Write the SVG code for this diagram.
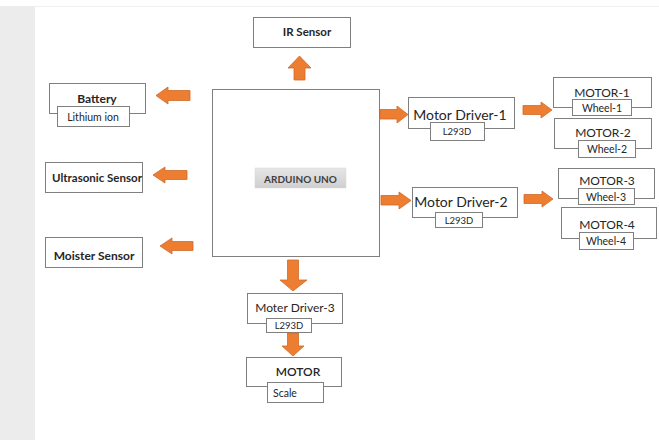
<svg xmlns="http://www.w3.org/2000/svg" width="659" height="440" viewBox="0 0 659 440">
<defs>
<linearGradient id="lbl" x1="0" y1="0" x2="0" y2="1">
<stop offset="0" stop-color="#e6e6e6"/>
<stop offset="1" stop-color="#cfcfcf"/>
</linearGradient>
<style>
.box{fill:#fff;stroke:#7f7f7f;stroke-width:1}
.arr{fill:#ed7d31;stroke:#d0692a;stroke-width:0.8}
text{font-family:Lato,"Open Sans","Liberation Sans",sans-serif;fill:#262626;text-anchor:middle;dominant-baseline:central}
.b{font-weight:700;font-size:11.5px}
.s{font-size:10.5px}
.l{font-size:9.5px}
.m{font-size:12px}
.d{font-size:14px}
</style>
</defs>
<rect x="0" y="0" width="659" height="440" fill="#fff"/>
<rect x="0" y="6" width="35" height="434" fill="#ececec"/>
<line x1="35" y1="6.5" x2="659" y2="6.5" stroke="#f0f0f0" stroke-width="1"/>

<g id="arduino">
<rect class="box" x="212.5" y="89.5" width="167" height="167"/>
<rect x="255" y="168" width="91" height="20" fill="url(#lbl)" stroke="#d8d8d8" stroke-width="0.5"/>
<text x="300.5" y="178.5" style="font-weight:700;font-size:10px;fill:#404040">ARDUINO UNO</text>
</g>

<g id="ir-sensor">
<rect class="box" x="253.5" y="17.5" width="97" height="30"/>
<text class="b" x="307" y="31">IR Sensor</text>
</g>

<g id="battery">
<rect class="box" x="49.5" y="83.5" width="96" height="30"/>
<text class="b" x="97" y="98" style="font-size:12px">Battery</text>
<rect class="box" x="57.5" y="106.5" width="72" height="20"/>
<text class="s" x="93" y="116.5">Lithium ion</text>
</g>

<g id="ultrasonic-sensor">
<rect class="box" x="45.5" y="162.5" width="97" height="30"/>
<text class="b" x="97" y="177">Ultrasonic Sensor</text>
</g>

<g id="moister-sensor">
<rect class="box" x="45.5" y="237.5" width="97" height="30"/>
<text class="b" x="94" y="255" style="font-size:12px">Moister Sensor</text>
</g>

<g id="motor-driver-1">
<rect class="box" x="408.5" y="97.5" width="106" height="31"/>
<text class="d" x="460" y="114">Motor Driver-1</text>
<rect class="box" x="430.5" y="122.5" width="54" height="18"/>
<text class="l" x="457" y="131.5">L293D</text>
</g>

<g id="motor-driver-2">
<rect class="box" x="412.5" y="187.5" width="105" height="30"/>
<text class="d" x="461" y="201">Motor Driver-2</text>
<rect class="box" x="435.5" y="212.5" width="47" height="15"/>
<text class="l" x="459" y="220">L293D</text>
</g>

<g id="motor-1">
<rect class="box" x="553.5" y="77.5" width="98" height="30"/>
<text class="m" x="602" y="92">MOTOR-1</text>
<rect class="box" x="572.5" y="99.5" width="59" height="16"/>
<text class="s" x="602" y="107.5">Wheel-1</text>
</g>

<g id="motor-2">
<rect class="box" x="554.5" y="118.5" width="97" height="30"/>
<text class="m" x="603" y="132">MOTOR-2</text>
<rect class="box" x="578.5" y="140.5" width="57" height="17"/>
<text class="s" x="607" y="149">Wheel-2</text>
</g>

<g id="motor-3">
<rect class="box" x="558.5" y="168.5" width="96" height="30"/>
<text class="m" x="607" y="180">MOTOR-3</text>
<rect class="box" x="578.5" y="188.5" width="56" height="16"/>
<text class="s" x="606" y="196.5">Wheel-3</text>
</g>

<g id="motor-4">
<rect class="box" x="561.5" y="207.5" width="95" height="31"/>
<text class="m" x="607" y="224">MOTOR-4</text>
<rect class="box" x="579.5" y="232.5" width="54" height="17"/>
<text class="s" x="606" y="241">Wheel-4</text>
</g>

<g id="motor-driver-3">
<rect class="box" x="247.5" y="293.5" width="95" height="30"/>
<text class="m" x="295" y="307">Moter Driver-3</text>
<rect class="box" x="266.5" y="318.5" width="45" height="14"/>
<text class="l" x="289" y="325.5">L293D</text>
</g>

<g id="motor-scale">
<rect class="box" x="246.5" y="357.5" width="95" height="29"/>
<text class="m" x="298" y="371.5" style="font-weight:600">MOTOR</text>
<rect class="box" x="267.5" y="382.5" width="56" height="20"/>
<text class="s" x="273" y="392.5" style="text-anchor:start">Scale</text>
</g>

<g id="connectors">
<polygon class="arr" points="294,80 294,68 288,68 299.5,56 311,68 305,68 305,80"/>
<polygon class="arr" points="190,90.5 168,90.5 168,87 156,95.5 168,104 168,100.5 190,100.5"/>
<polygon class="arr" points="187,170.5 165,170.5 165,167 153,175 165,183 165,179.5 187,179.5"/>
<polygon class="arr" points="193,241.5 172,241.5 172,238 160,246 172,254 172,250.5 193,250.5"/>
<polygon class="arr" points="380,109.5 397,109.5 397,106 408,114.5 397,123 397,119 380,119"/>
<polygon class="arr" points="523,105.5 541,105.5 541,102 552,110 541,118 541,114.5 523,114.5"/>
<polygon class="arr" points="381,195.5 399,195.5 399,192 411,200.5 399,209 399,205 381,205"/>
<polygon class="arr" points="524,194.5 542,194.5 542,191 553,199 542,207 542,203.5 524,203.5"/>
<polygon class="arr" points="287.5,260 298.5,260 298.5,280 307,280 293,291 280,280 287.5,280"/>
<polygon class="arr" points="287.5,333 298.5,333 298.5,346 304,346 293,356 282,346 287.5,346"/>
</g>
</svg>
